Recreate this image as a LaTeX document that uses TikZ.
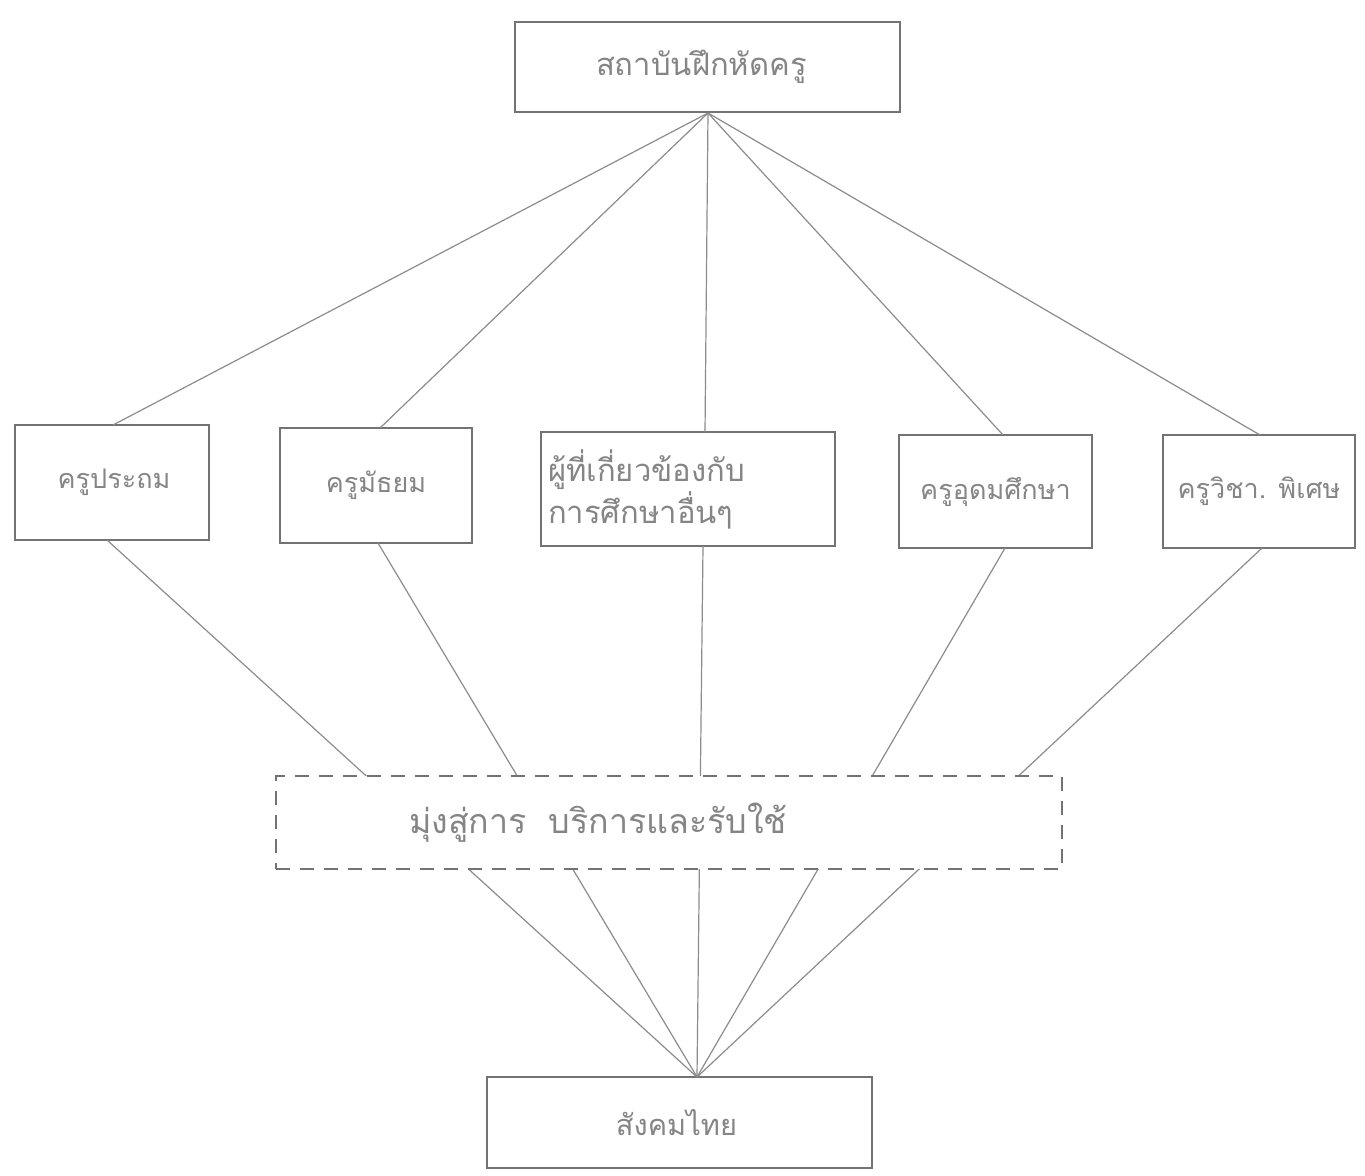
\documentclass[tikz,border=0pt]{standalone}
\usepackage{fontspec}
\newfontfamily\thaifont[Script=Thai]{Loma}
\definecolor{boxline}{gray}{0.45}
\definecolor{conn}{gray}{0.55}
\definecolor{txt}{gray}{0.52}
\begin{document}
\begin{tikzpicture}[x=1pt,y=-1pt,
  box/.style={draw=boxline, line width=1.5pt, fill=white, inner sep=0pt,
    font=\thaifont\fontsize{27}{40}\selectfont, text=txt, align=center},
  dbox/.style={box, dash pattern=on 14pt off 10pt},
  link/.style={draw=conn, line width=1.2pt}]
\useasboundingbox[fill=white] (0,0) rectangle (1365,1175);
% boxes
\node[box, minimum width=385pt, minimum height=90pt, font=\thaifont\fontsize{31}{38}\selectfont] (top) at (707.5,67) {\hspace*{-12pt}สถาบันฝึกหัดครู};
\node[box, minimum width=194pt, minimum height=115pt] (r1) at (112,482.5) {\hspace*{4pt}ครูประถม};
\node[box, minimum width=192pt, minimum height=115pt] (r2) at (376,485.5) {ครูมัธยม};
\node[box, minimum width=294pt, minimum height=114pt, align=left, font=\thaifont\fontsize{31}{40}\selectfont] (r3) at (688,489) {\makebox[280pt][l]{ผู้ที่เกี่ยวข้องกับ}\\[2pt]\makebox[280pt][l]{การศึกษาอื่นๆ}};
\node[box, minimum width=193pt, minimum height=113pt] (r4) at (995.5,491.5) {ครูอุดมศึกษา};
\node[box, minimum width=192pt, minimum height=113pt] (r5) at (1259,491.5) {ครูวิชา. พิเศษ};
\node[box, minimum width=385pt, minimum height=91pt, font=\thaifont\fontsize{29}{38}\selectfont] (bot) at (679.5,1122.5) {\hspace*{-6pt}สังคมไทย};
% contact points
\coordinate (tc) at (708,113);
\coordinate (r1n) at (113,425);
\coordinate (r2n) at (380,428);
\coordinate (r3n) at (705,432);
\coordinate (r4n) at (1003,435);
\coordinate (r5n) at (1260,435);
\coordinate (r1s) at (107,540);
\coordinate (r2s) at (378,543);
\coordinate (r3s) at (703,546);
\coordinate (r4s) at (1005,548);
\coordinate (r5s) at (1262,548);
\coordinate (bc) at (697,1077);
% connectors from the top box
\foreach \n in {r1n,r2n,r3n,r4n,r5n} \draw[link] (tc) -- (\n);
% connectors to the bottom box
\foreach \n in {r1s,r2s,r3s,r4s,r5s} \draw[link] (\n) -- (bc);
% middle dashed box on top of the connectors
\node[dbox, minimum width=786pt, minimum height=93pt, font=\thaifont\fontsize{34}{40}\selectfont] (mid) at (669,822.5) {\makebox[780pt][l]{\hspace*{130pt}มุ่งสู่การ\hspace*{22pt}บริการและรับใช้}};
\end{tikzpicture}
\end{document}
